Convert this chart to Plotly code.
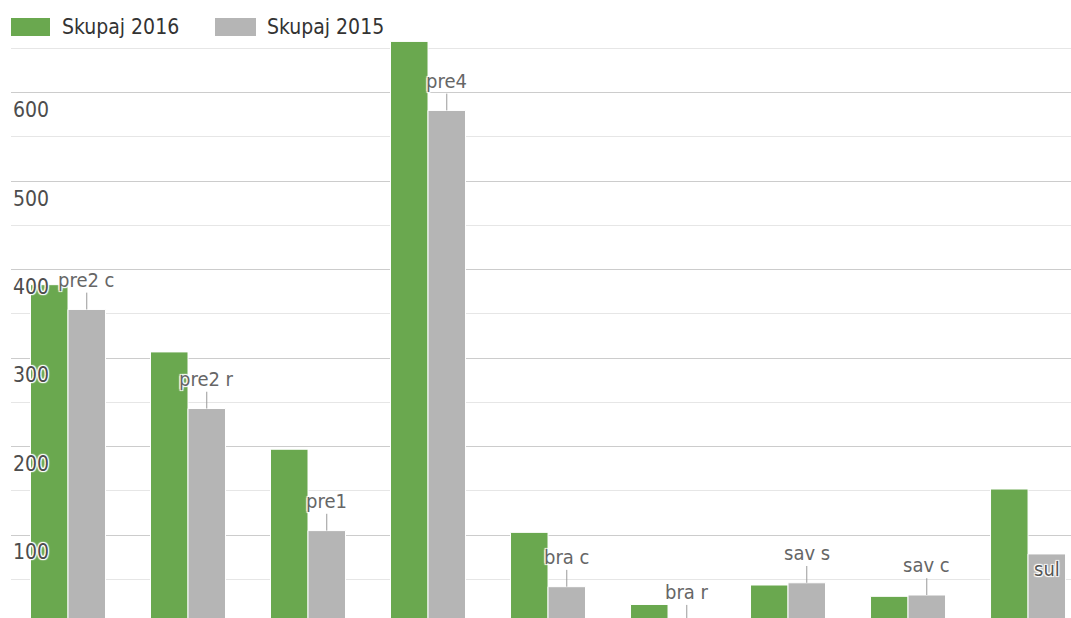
import plotly.graph_objects as go

categories = ["pre2 c", "pre2 r", "pre1", "pre4", "bra c", "bra r", "sav s", "sav c", "sul"]
series_names = ["Skupaj 2016", "Skupaj 2015"]
values_2016 = [383, 307, 197, 658, 103, 21.5, 43.5, 30.7, 152]
values_2015 = [355, 243, 105, 580, 41.6, 2, 46, 32.2, 78.6]
major_ticks = [100, 200, 300, 400, 500, 600]
minor_ticks = [50, 150, 250, 350, 450, 550, 650]
inside_label = ["sul"]

GREEN = "#6aa84f"
GRAY = "#b5b5b5"
FONT = "DejaVu Sans Condensed, Liberation Sans, sans-serif"
HALO = "white 1px 1px 1px, white -1px -1px 1px, white 1px -1px 1px, white -1px 1px 1px, white 0px 0px 2px"
BARGAP = 0.375
W, H = 1071, 618

fig = go.Figure()
fig.add_trace(go.Bar(x=categories, y=values_2016, name=series_names[0],
                     marker=dict(color=GREEN, line=dict(color="white", width=1)),
                     showlegend=False, hoverinfo="x+y+name"))
fig.add_trace(go.Bar(x=categories, y=values_2015, name=series_names[1],
                     marker=dict(color=GRAY, line=dict(color="white", width=1)),
                     showlegend=False, hoverinfo="x+y+name"))

annotations = []
offset = (1 - BARGAP) / 4
lead = 19
for i, (c, v) in enumerate(zip(categories, values_2015)):
    if c in inside_label:
        annotations.append(dict(x=i + offset, y=v, xref="x", yref="y", text=c,
                                showarrow=False, yanchor="top", xanchor="center",
                                yshift=-1,
                                font=dict(family=FONT, size=20, color="#555", shadow=HALO)))
    else:
        annotations.append(dict(x=i + offset, y=v, xref="x", yref="y", text=c,
                                showarrow=True, arrowhead=0, arrowwidth=1, arrowcolor="#999",
                                axref="pixel", ax=0, ayref="y", ay=v + lead,
                                xanchor="center", yanchor="bottom", standoff=0, borderpad=0,
                                font=dict(family=FONT, size=20, color="#666", shadow=HALO)))

# custom legend
shapes = []
legend_items = [(series_names[0], GREEN, 11, 50, 60), (series_names[1], GRAY, 215, 256, 265)]
for name, col, x0, x1, tx in legend_items:
    shapes.append(dict(type="rect", xref="paper", yref="paper",
                       x0=x0 / W, x1=x1 / W, y0=1 - 36 / H, y1=1 - 18 / H,
                       fillcolor=col, line=dict(width=0)))
    annotations.append(dict(x=tx / W, y=1 - 27 / H, xref="paper", yref="paper", text=name,
                            showarrow=False, xanchor="left", yanchor="middle",
                            font=dict(family=FONT, size=21, color="#333")))

fig.update_layout(
    width=W, height=H,
    margin=dict(l=0, r=0, t=0, b=0),
    plot_bgcolor="white", paper_bgcolor="white",
    barmode="group", bargap=BARGAP, bargroupgap=0,
    showlegend=False,
    annotations=annotations, shapes=shapes,
    xaxis=dict(domain=[11 / W, 1], range=[-0.475, 8.358], showticklabels=False,
               showgrid=False, zeroline=False, showline=False, ticks=""),
    yaxis=dict(range=[6.2, 6.2 + H / 0.8846], tickvals=major_ticks,
               ticklabelposition="inside", ticklabelshift=17, ticklabelstandoff=-1,
               showgrid=True, gridcolor="#cccccc", gridwidth=1,
               minor=dict(tickvals=minor_ticks, showgrid=True, gridcolor="#e6e6e6", gridwidth=1),
               zeroline=False, showline=False, ticks="",
               tickfont=dict(family=FONT, size=21, color="#4d4d4d", shadow=HALO)),
)

fig.write_html("out.html", config={"displayModeBar": False},
               post_script="document.body.style.margin='0';document.body.style.overflow='hidden';")
